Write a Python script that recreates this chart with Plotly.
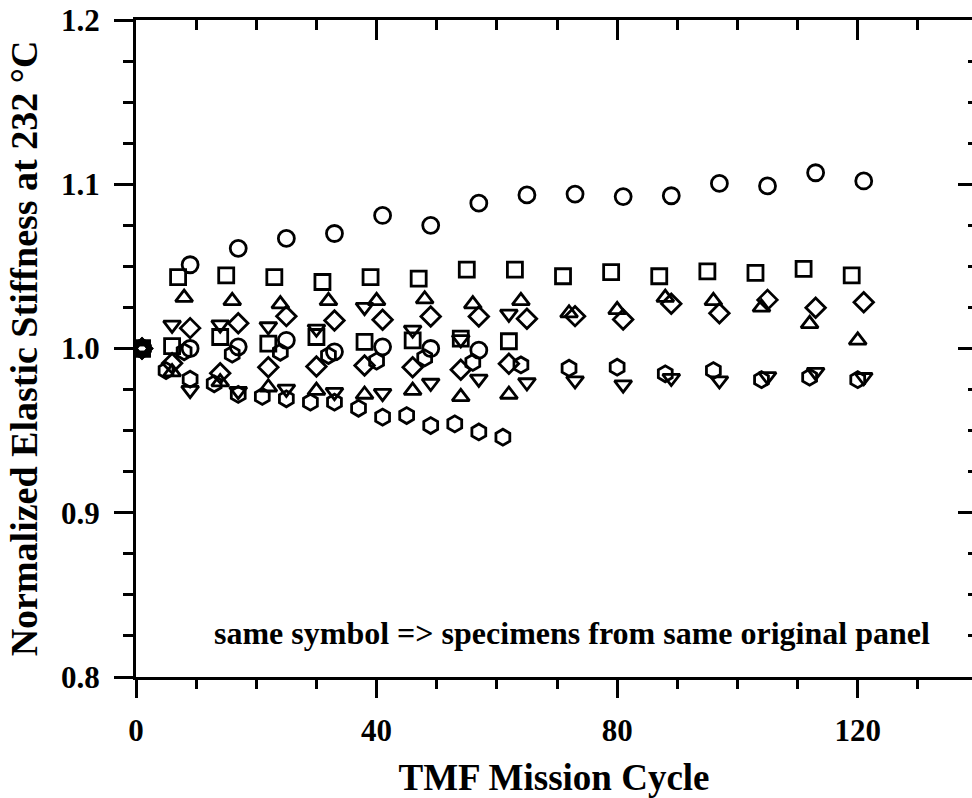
import plotly.graph_objects as go

# ---- data ----
circle_a_x = [1, 9, 17, 25, 33, 41, 49, 57, 65, 73, 81, 89, 97, 105, 113, 121]
circle_a_y = [1.0, 1.051, 1.061, 1.067, 1.070, 1.081, 1.075, 1.0885, 1.0935, 1.094, 1.0925, 1.093, 1.1005, 1.099, 1.107, 1.102]

circle_b_x = [1, 9, 17, 25, 33, 41, 49, 57]
circle_b_y = [1.0, 1.000, 1.001, 1.005, 0.998, 1.001, 1.000, 0.999]

square_a_x = [1, 7, 15, 23, 31, 39, 47, 55, 63, 71, 79, 87, 95, 103, 111, 119]
square_a_y = [1.0, 1.0435, 1.0445, 1.0435, 1.0405, 1.0435, 1.0425, 1.048, 1.048, 1.044, 1.0465, 1.044, 1.047, 1.046, 1.0485, 1.0445]

square_b_x = [1, 6, 14, 22, 30, 38, 46, 54, 62]
square_b_y = [1.0, 1.0014, 1.007, 1.003, 1.007, 1.004, 1.005, 1.006, 1.0044]

triup_a_x = [1, 8, 16, 24, 32, 40, 48, 56, 64, 72, 80, 88, 96, 104, 112, 120]
triup_a_y = [1.0, 1.031, 1.029, 1.027, 1.029, 1.029, 1.030, 1.027, 1.029, 1.0215, 1.0235, 1.031, 1.029, 1.025, 1.015, 1.005]

triup_b_x = [1, 6, 14, 22, 30, 38, 46, 54, 62]
triup_b_y = [1.0, 0.9856, 0.9795, 0.9764, 0.9744, 0.972, 0.9744, 0.9706, 0.972]

tridown_a_x = [1, 6, 14, 22, 30, 38, 46, 54, 62]
tridown_a_y = [1.0, 1.0144, 1.0145, 1.0134, 1.012, 1.0252, 1.0114, 1.0055, 1.0211]

tridown_b_x = [1, 9, 17, 25, 33, 41, 49, 57, 65, 73, 81, 89, 97, 105, 113, 121]
tridown_b_y = [1.0, 0.9746, 0.974, 0.9754, 0.9734, 0.9728, 0.979, 0.9815, 0.9793, 0.9805, 0.978, 0.982, 0.9805, 0.983, 0.9856, 0.9825]

diamond_a_x = [1, 9, 17, 25, 33, 41, 49, 57, 65, 73, 81, 89, 97, 105, 113, 121]
diamond_a_y = [1.0, 1.0124, 1.0154, 1.0197, 1.017, 1.0175, 1.0195, 1.0195, 1.0181, 1.0197, 1.0177, 1.0272, 1.0215, 1.0296, 1.0248, 1.0282]

diamond_b_x = [1, 6, 14, 22, 30, 38, 46, 54, 62]
diamond_b_y = [1.0, 0.991, 0.985, 0.9886, 0.989, 0.9896, 0.9886, 0.987, 0.9907]

hex_a_x = [1, 8, 16, 24, 32, 40, 48, 56, 64, 72, 80, 88, 96, 104, 112, 120]
hex_a_y = [1.0, 0.998, 0.9965, 0.9977, 0.9957, 0.9923, 0.9943, 0.9915, 0.990, 0.988, 0.9886, 0.9846, 0.9866, 0.981, 0.9825, 0.981]

hex_b_x = [1, 5, 13, 21, 29, 37, 45, 53, 61]
hex_b_y = [1.0, 0.9866, 0.9785, 0.9708, 0.9673, 0.9636, 0.9592, 0.9541, 0.946]

hex_c_x = [1, 9, 17, 25, 33, 41, 49, 57]
hex_c_y = [1.0, 0.9813, 0.972, 0.9694, 0.9673, 0.9582, 0.9531, 0.9492]

series = [
    ("circle-open", circle_a_x, circle_a_y, 16),
    ("circle-open", circle_b_x, circle_b_y, 16),
    ("square-open", square_a_x, square_a_y, 15),
    ("square-open", square_b_x, square_b_y, 15),
    ("triangle-up-open", triup_a_x, triup_a_y, 15),
    ("triangle-up-open", triup_b_x, triup_b_y, 15),
    ("triangle-down-open", tridown_a_x, tridown_a_y, 15),
    ("triangle-down-open", tridown_b_x, tridown_b_y, 15),
    ("diamond-open", diamond_a_x, diamond_a_y, 15),
    ("diamond-open", diamond_b_x, diamond_b_y, 15),
    ("hexagon-open", hex_a_x, hex_a_y, 16),
    ("hexagon-open", hex_b_x, hex_b_y, 16),
    ("hexagon-open", hex_c_x, hex_c_y, 16),
]

FONT = "Liberation Serif"

fig = go.Figure()
for sym, xs, ys, sz in series:
    fig.add_trace(go.Scatter(
        x=xs, y=ys, mode="markers", showlegend=False,
        marker=dict(symbol=sym, size=sz, color="black",
                    line=dict(color="black", width=2.8)),
    ))

# dummy trace so the mirrored (top/right) axes exist
fig.add_trace(go.Scatter(x=[None], y=[None], xaxis="x2", yaxis="y2",
                         mode="markers", showlegend=False, hoverinfo="skip"))

XR = [0, 139]
YR = [0.8, 1.2]

fig.update_layout(
    width=972, height=798,
    margin=dict(l=136, r=0, t=20, b=121),
    paper_bgcolor="white", plot_bgcolor="white",
    font=dict(family=FONT, color="black"),
    xaxis=dict(
        range=XR, showgrid=False, zeroline=False,
        showline=True, linecolor="black", linewidth=3,
        ticks="outside", ticklen=18, tickwidth=3, tickcolor="black",
        tick0=0, dtick=40, ticklabelstandoff=6,
        minor=dict(ticks="outside", dtick=10, tick0=0, ticklen=9, tickwidth=3, tickcolor="black"),
        tickfont=dict(family=FONT, size=31, weight="bold"),
        title=dict(text="TMF Mission Cycle", font=dict(family=FONT, size=37, weight="bold"), standoff=20),
    ),
    yaxis=dict(
        range=YR, showgrid=False, zeroline=False,
        showline=True, linecolor="black", linewidth=3,
        ticks="outside", ticklen=19, tickwidth=3, tickcolor="black",
        tick0=0.8, dtick=0.1, tickformat=".1f", ticklabelstandoff=8,
        minor=dict(ticks="outside", dtick=0.025, tick0=0.8, ticklen=10, tickwidth=3, tickcolor="black"),
        tickfont=dict(family=FONT, size=31, weight="bold"),
        title=dict(text="Normalized Elastic Stiffness at 232 °C", font=dict(family=FONT, size=38, weight="bold"), standoff=12),
    ),
    xaxis2=dict(
        overlaying="x", side="top", range=XR, showgrid=False, zeroline=False,
        showline=True, linecolor="black", linewidth=3,
        ticks="inside", ticklen=20, tickwidth=3, tickcolor="black",
        tick0=0, dtick=40, showticklabels=False,
        minor=dict(ticks="inside", dtick=10, tick0=0, ticklen=10, tickwidth=3, tickcolor="black"),
    ),
    yaxis2=dict(
        overlaying="y", side="right", range=YR, showgrid=False, zeroline=False,
        showline=False,
        ticks="inside", ticklen=14, tickwidth=3, tickcolor="black",
        tick0=0.8, dtick=0.1, showticklabels=False,
        minor=dict(ticks="inside", dtick=0.025, tick0=0.8, ticklen=4, tickwidth=3, tickcolor="black"),
    ),
    annotations=[dict(
        x=72.5, y=0.827, xref="x", yref="y", showarrow=False,
        text="same symbol => specimens from same original panel",
        font=dict(family=FONT, size=32, weight="bold", color="black"),
        xanchor="center", yanchor="middle",
    )],
)

fig.write_html("out.html")
